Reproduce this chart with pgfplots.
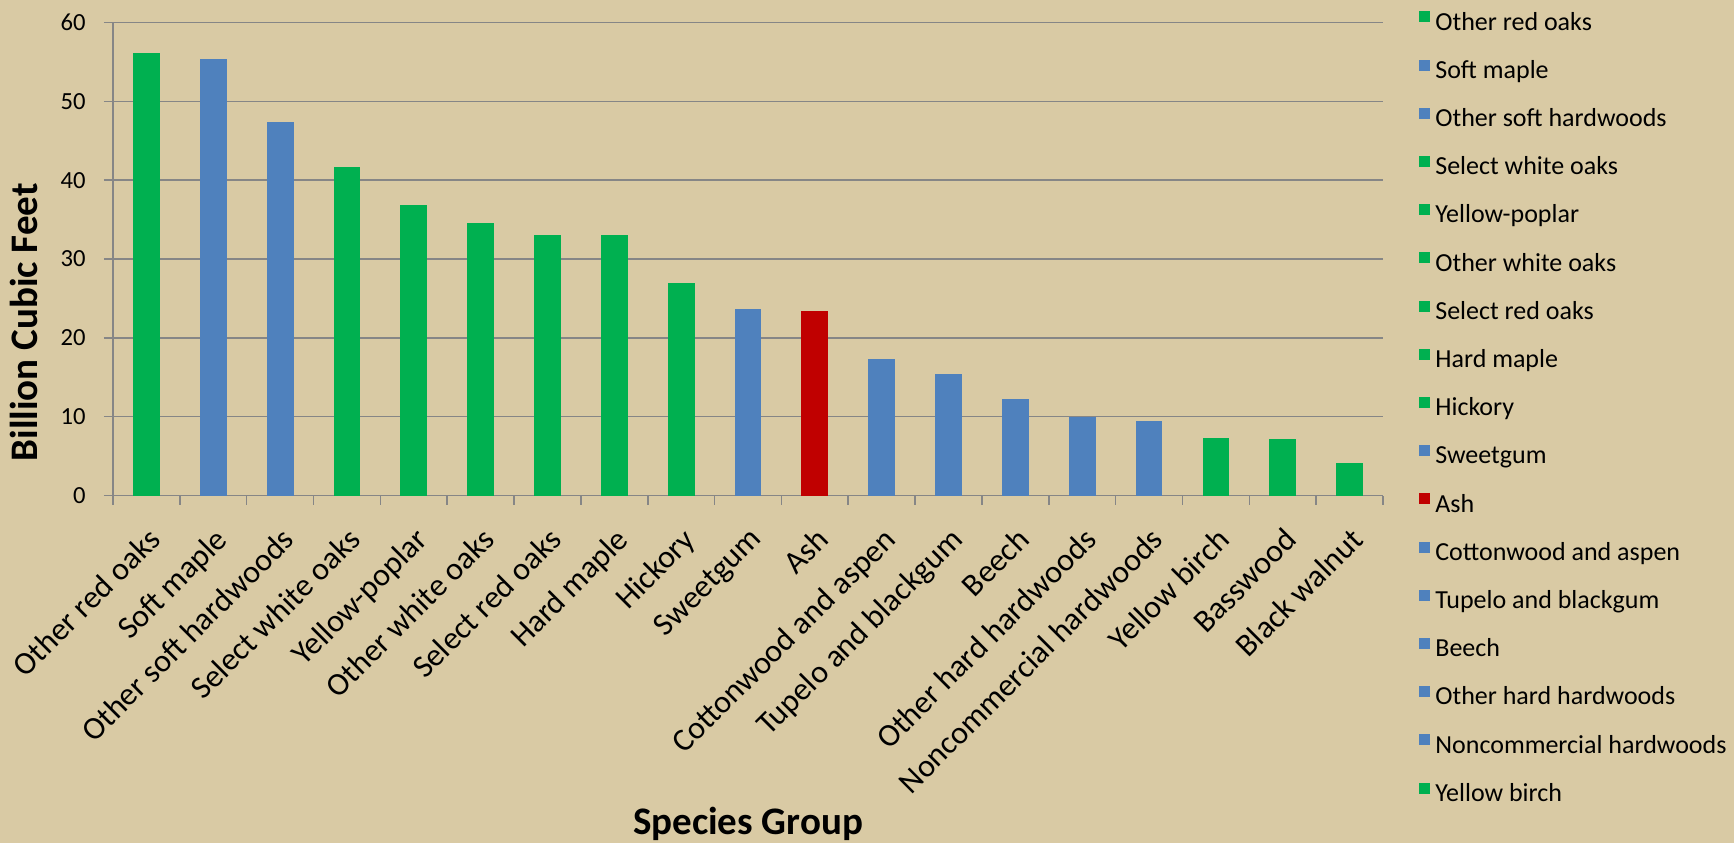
\documentclass[border=0pt]{standalone}
\usepackage{fontspec}
\setmainfont{Carlito}
\usepackage{pgfplots}
\pgfplotsset{compat=1.18}

\definecolor{bg}{RGB}{217,202,164}
\definecolor{grn}{RGB}{0,176,80}
\definecolor{blu}{RGB}{79,129,189}
\definecolor{rd}{RGB}{192,0,0}
\definecolor{gridgray}{RGB}{134,134,134}

\pgfplotsset{
  bx/.style={fill=#1, draw=none,
    legend image code/.code={\fill[#1] (0pt,0.8pt) rectangle (5.5pt,6.3pt);}},
}

\begin{document}
\begin{tikzpicture}
\path[use as bounding box, fill=bg] (0,0) rectangle (867pt,421.5pt);
\begin{axis}[
  at={(56.5pt,173.75pt)}, anchor=south west,
  scale only axis, width=635pt, height=236.5pt,
  ybar, bar width=13.4pt, bar shift=0pt,
  xmin=-0.5, xmax=18.5, ymin=0, ymax=60,
  enlargelimits=false,
  axis x line=bottom, axis y line=left,
  axis line style={gridgray, line width=0.8pt, -},
  tick align=outside,
  xtick={-0.5,0.5,...,18.5}, xticklabels={},
  ytick={0,10,...,60},
  major tick length=4.5pt,
  tick style={gridgray, line width=0.8pt},
  ymajorgrids, grid style={gridgray, line width=0.8pt},
  /pgf/number format/assume math mode=true,
  yticklabel style={font=\fontsize{12.3}{14}\selectfont, inner sep=0pt},
  yticklabel shift=9pt,
  extra x ticks={0,...,18},
  extra x tick labels={Other red oaks, Soft maple, Other soft hardwoods,
    Select white oaks, Yellow-poplar, Other white oaks, Select red oaks,
    Hard maple, Hickory, Sweetgum, Ash, Cottonwood and aspen,
    Tupelo and blackgum, Beech, Other hard hardwoods,
    Noncommercial hardwoods, Yellow birch, Basswood, Black walnut},
  extra x tick style={major tick length=0pt, grid=none,
    xticklabel style={rotate=45, anchor=north east, inner sep=0pt,
      font=\fontsize{16}{18}\selectfont},
    xticklabel shift=15pt},
  xlabel={Species Group},
  xlabel style={at={(rel axis cs:0.5,-0.7170)}, anchor=base,
    font=\bfseries\fontsize{19.5}{22}\selectfont},
  ylabel={Billion Cubic Feet},
  ylabel style={at={(rel axis cs:-0.0591,0.3658)}, anchor=base,
    font=\bfseries\fontsize{19.5}{22}\selectfont},
  legend cell align=left,
  legend style={at={(rel axis cs:1.0283,1.0243)}, anchor=north west,
    draw=none, fill=none, inner sep=0pt, row sep=11.8pt,
    nodes={inner sep=0pt, text height=9pt, text depth=3pt,
      font=\fontsize{13}{15}\selectfont},
    /tikz/every odd column/.append style={column sep=2.5pt}},
]
\addplot[bx=grn] coordinates {(0,56.1)};  \addlegendentry{Other red oaks}
\addplot[bx=blu] coordinates {(1,55.4)};  \addlegendentry{Soft maple}
\addplot[bx=blu] coordinates {(2,47.4)};  \addlegendentry{Other soft hardwoods}
\addplot[bx=grn] coordinates {(3,41.7)};  \addlegendentry{Select white oaks}
\addplot[bx=grn] coordinates {(4,36.8)};  \addlegendentry{Yellow-poplar}
\addplot[bx=grn] coordinates {(5,34.6)};  \addlegendentry{Other white oaks}
\addplot[bx=grn] coordinates {(6,33.0)};  \addlegendentry{Select red oaks}
\addplot[bx=grn] coordinates {(7,33.0)};  \addlegendentry{Hard maple}
\addplot[bx=grn] coordinates {(8,27.0)};  \addlegendentry{Hickory}
\addplot[bx=blu] coordinates {(9,23.7)};  \addlegendentry{Sweetgum}
\addplot[bx=rd]  coordinates {(10,23.4)}; \addlegendentry{Ash}
\addplot[bx=blu] coordinates {(11,17.3)}; \addlegendentry{Cottonwood and aspen}
\addplot[bx=blu] coordinates {(12,15.4)}; \addlegendentry{Tupelo and blackgum}
\addplot[bx=blu] coordinates {(13,12.2)}; \addlegendentry{Beech}
\addplot[bx=blu] coordinates {(14,9.9)};  \addlegendentry{Other hard hardwoods}
\addplot[bx=blu] coordinates {(15,9.4)};  \addlegendentry{Noncommercial hardwoods}
\addplot[bx=grn] coordinates {(16,7.3)};  \addlegendentry{Yellow birch}
% legend is cut off in the original, last two have no entry
\addplot[bx=grn] coordinates {(17,7.2)};
\addplot[bx=grn] coordinates {(18,4.1)};
\end{axis}
\end{tikzpicture}
\end{document}
